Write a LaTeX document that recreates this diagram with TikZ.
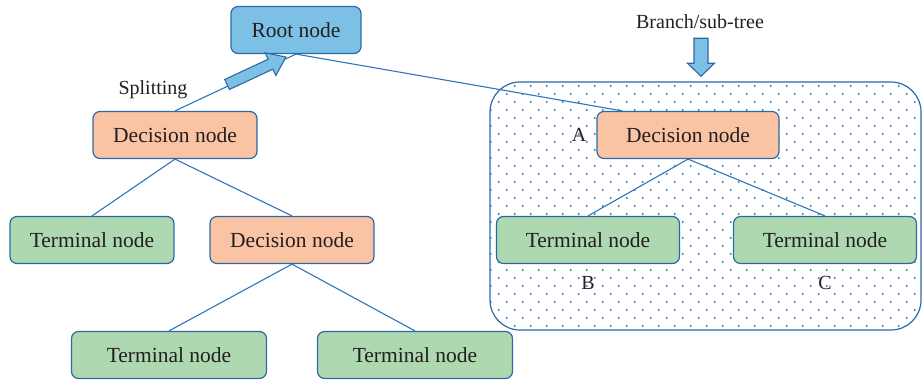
\documentclass[tikz,border=0pt]{standalone}
\usepackage{fontspec}
\setmainfont{Liberation Serif}
\usetikzlibrary{positioning, calc}
\definecolor{linkblue}{RGB}{46,117,190}
\definecolor{edgeblue}{RGB}{45,105,165}
\definecolor{rootfill}{RGB}{124,192,230}
\definecolor{decfill}{RGB}{250,195,163}
\definecolor{termfill}{RGB}{174,216,176}
\definecolor{dotblue}{RGB}{55,125,200}
\definecolor{inkgrey}{RGB}{35,31,32}

\tikzset{
  box/.style={draw=edgeblue, line width=1.2pt, rounded corners=7pt, minimum height=47pt,
    inner sep=0pt, text=inkgrey, font=\fontsize{21.5}{25}\selectfont},
  rootbox/.style={box, fill=rootfill, minimum width=130pt},
  decbox/.style={box, fill=decfill, minimum width=164pt},
  termbox/.style={box, fill=termfill, minimum width=164pt},
  link/.style={linkblue, line width=1.1pt},
  lbl/.style={text=inkgrey, font=\fontsize{20}{23}\selectfont, inner sep=0pt},
  bigarrow/.style={draw=edgeblue, fill=rootfill, line width=1.1pt, line join=miter}
}

\begin{document}
\begin{tikzpicture}[x=1pt, y=-1pt]
  \useasboundingbox (0,0) rectangle (923,381);
  \clip (0,0) rectangle (923,381);

  % sub-tree region
  \begin{scope}
    \clip[rounded corners=30pt] (490,82) rectangle (921,330);
    \foreach \j in {0,...,30}{
      \pgfmathsetmacro{\dx}{mod(\j,2)==0 ? 8 : 0}
      \foreach \i in {0,...,27}
        \fill[dotblue] (490.7+16*\i+\dx, 86+8*\j) circle (1.1pt);
    }
  \end{scope}
  \draw[edgeblue, line width=1.2pt, rounded corners=30pt] (490,82) rectangle (921,330);

  % nodes
  \node[rootbox] (root) at (296,30) {Root node};
  \node[decbox] (dec1) at (175,135) {Decision node};
  \node[termbox] (term1) at (92,240) {Terminal node};
  \node[decbox] (dec2) at (292,240) {Decision node};
  \node[termbox, minimum width=195pt] (term2) at (169,355) {Terminal node};
  \node[termbox, minimum width=195pt] (term3) at (415,355) {Terminal node};
  \node[decbox, minimum width=182pt] (decA) at (688,135) {Decision node};
  \node[termbox, minimum width=183pt] (termB) at (588,240) {Terminal node};
  \node[termbox, minimum width=183pt] (termC) at (825,240) {Terminal node};

  % links
  \draw[link] (root.south) -- (dec1.north);
  \draw[link] (root.south) -- ([xshift=26pt]decA.north west);
  \draw[link] (dec1.south) -- (term1.north);
  \draw[link] (dec1.south) -- (dec2.north);
  \draw[link] (dec2.south) -- (term2.north);
  \draw[link] (dec2.south) -- (term3.north);
  \draw[link] (decA.south) -- (termB.north);
  \draw[link] (decA.south) -- (termC.north);

  % labels
  \node[lbl, left=10pt of decA] (la) {A};
  \node[lbl, below=12pt of termB] (lb) {B};
  \node[lbl, below=12pt of termC] (lc) {C};
  \node[lbl] (split) at (153,90) {Splitting};
  \node[lbl] (branch) at (700,22) {Branch/sub-tree};

  % splitting arrow
  \coordinate (s0) at ($(dec1.north)!0.43!(root.south)+(0,-2)$);
  \begin{scope}[shift={(s0)}, rotate=25]
    \draw[bigarrow] (0,-5.5) -- (48,-5.5) -- (48,-12.5) -- (65,0) -- (48,12.5) -- (48,5.5) -- (0,5.5) -- cycle;
  \end{scope}

  % branch arrow
  \coordinate (b0) at ($(branch.south)+(1,9)$);
  \begin{scope}[shift={(b0)}]
    \draw[bigarrow] (-7,0) -- (7,0) -- (7,25) -- (13.5,25) -- (0,38) -- (-13.5,25) -- (-7,25) -- cycle;
  \end{scope}
\end{tikzpicture}
\end{document}
